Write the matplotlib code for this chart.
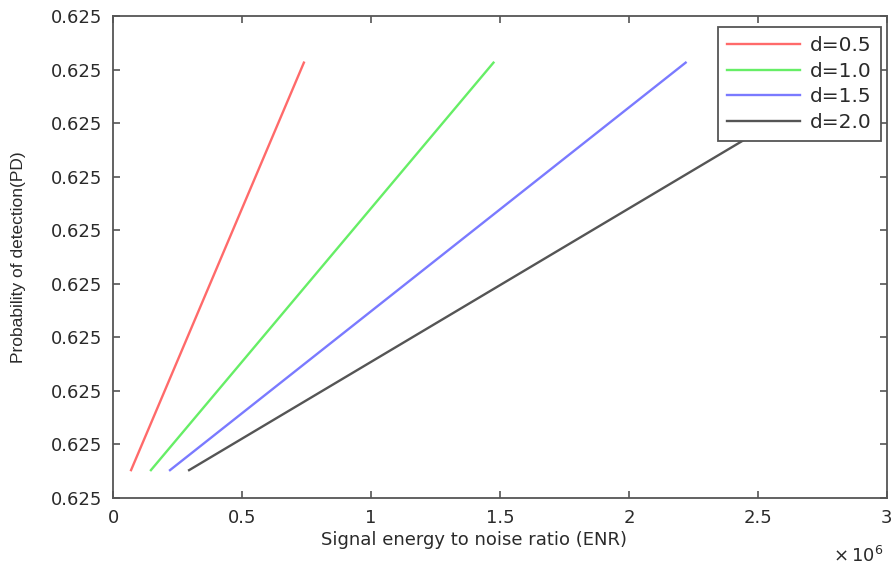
import matplotlib.pyplot as plt

plt.rcParams['font.family'] = ['DejaVu Sans']

# ENR in units of 1e6, PD in tick units (all ticks print as 0.625)
labels = ["d=0.5", "d=1.0", "d=1.5", "d=2.0"]
colors = ['#ff6a6a', '#66ee66', '#7a7aff', '#555555']
enr = [[0.07, 0.74], [0.147, 1.475], [0.221, 2.22], [0.295, 2.95]]
pd = [[0.52, 8.13], [0.52, 8.13], [0.52, 8.13], [0.52, 8.13]]

yticks = list(range(10))
ytick_labels = ["0.625"] * 10
xticks = [0, 0.5, 1, 1.5, 2, 2.5, 3]
xtick_labels = ["0", "0.5", "1", "1.5", "2", "2.5", "3"]

fig = plt.figure(figsize=(8.94, 5.65), dpi=100)
ax = fig.add_axes([0.1264, 0.1186, 0.8656, 0.853])

for xs, ys, c, lab in zip(enr, pd, colors, labels):
    ax.plot(xs, ys, color=c, linewidth=1.7, label=lab)

ax.set_xlim(0, 3)
ax.set_ylim(0, 9)
ax.set_xticks(xticks)
ax.set_xticklabels(xtick_labels)
ax.set_yticks(yticks)
ax.set_yticklabels(ytick_labels)
ax.tick_params(direction='in', top=True, right=True, length=5, width=1.2,
               color='#555555', labelsize=13, labelcolor='#2a2a2a', pad=8)
for s in ax.spines.values():
    s.set_color('#555555')
    s.set_linewidth(1.3)

ax.set_xlabel('Signal energy to noise ratio (ENR)', fontsize=13, color='#2a2a2a')
ax.xaxis.set_label_coords(0.467, -0.087)
ax.xaxis.label.set_va('center')
ax.set_ylabel('Probability of detection(PD)', fontsize=12.5, color='#2a2a2a',
              family=['Liberation Sans Narrow', 'Liberation Sans'])
ax.yaxis.set_label_coords(-0.122, 0.5)
ax.yaxis.label.set_va('center')
ax.text(0.995, -0.1, r'$\times\,10^{6}$', transform=ax.transAxes, ha='right', va='top',
        fontsize=13, color='#2a2a2a')

leg = ax.legend(loc='upper right', bbox_to_anchor=(0.992, 0.977), fontsize=14.5,
                frameon=True, fancybox=False, handlelength=3.6, borderpad=0.45,
                labelspacing=0.33, handletextpad=0.5, borderaxespad=0)
leg.get_frame().set_edgecolor('#555555')
leg.get_frame().set_linewidth(1.3)
leg.get_frame().set_alpha(1)
for t in leg.get_texts():
    t.set_color('#2a2a2a')

fig.savefig('out.png', dpi=100)
